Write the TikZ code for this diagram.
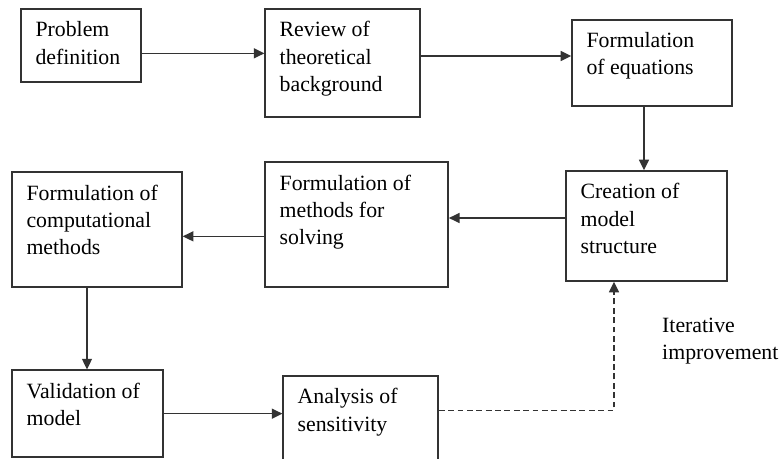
\documentclass[tikz,border=0pt]{standalone}
\usepackage{fontspec}
\setmainfont{Liberation Serif}
\usepackage{tikz}
\usetikzlibrary{calc,positioning,arrows.meta}

\begin{document}
\begin{tikzpicture}[
    stage/.style={draw=black!80, line width=1.2pt, fill=white, inner sep=0pt},
    stagetext/.style={anchor=north west, xshift=0.45cm, yshift=-0.39cm, inner sep=0pt,
        align=left, font=\fontsize{18.6}{23.3}\selectfont},
    flow/.style={-{Triangle[length=0.32cm,width=0.3cm]}, line width=1.2pt, draw=black!80},
    loopback/.style={flow, dashed, dash pattern=on 5pt off 3pt}
]
    \useasboundingbox (0,0) rectangle (23.43,-13.77);

    % Top row
    \node[stage, minimum width=3.60cm, minimum height=2.19cm, label={[stagetext]north west:{Problem\\definition}}] (B1) at (2.43,-1.37) {};
    \node[stage, minimum width=4.65cm, minimum height=3.24cm, label={[stagetext]north west:{Review of\\theoretical\\background}}] (B2) at (10.28,-1.89) {};
    \node[stage, minimum width=4.80cm, minimum height=2.58cm, label={[stagetext]north west:{Formulation\\of equations}}] (B3) at (19.56,-1.89) {};

    % Middle row
    \node[stage, minimum width=4.83cm, minimum height=3.30cm, label={[stagetext]north west:{Creation of\\model\\structure}}] (B4) at (19.40,-6.78) {};
    \node[stage, minimum width=5.49cm, minimum height=3.75cm, label={[stagetext]north west:{Formulation of\\methods for\\solving}}] (B5) at (10.70,-6.74) {};
    \node[stage, minimum width=5.10cm, minimum height=3.45cm, label={[stagetext]north west:{Formulation of\\computational\\methods}}] (B6) at (2.91,-6.89) {};

    % Bottom row
    \node[stage, minimum width=4.53cm, minimum height=2.61cm, label={[stagetext]north west:{Validation of\\model}}] (B7) at (2.63,-12.41) {};
    \node[stage, minimum width=4.65cm, minimum height=2.58cm, label={[stagetext]north west:{Analysis of\\sensitivity}}] (B8) at (10.82,-12.57) {};

    % Feedback label
    \node[anchor=north west, inner sep=0pt, align=left, font=\fontsize{18.6}{23.3}\selectfont] (iter) at (19.86,-9.54) {Iterative\\improvement};

    % Main flow
    \draw[flow] ([yshift=-0.23cm]B1.east) -- ([yshift=-0.23cm]B1.east -| B2.west);
    \draw[flow] ([yshift=0.21cm]B2.east) -- ([yshift=0.21cm]B2.east -| B3.west);
    \draw[flow] ([xshift=-0.24cm]B3.south) -- ([xshift=-0.24cm]B3.south |- B4.north);
    \draw[flow] ([yshift=0.24cm]B4.west) -- ([yshift=0.24cm]B4.west -| B5.east);
    \draw[flow] ([yshift=-0.35cm]B5.west) -- ([yshift=-0.35cm]B5.west -| B6.east);
    \draw[flow] ([xshift=-0.30cm]B6.south) -- ([xshift=-0.30cm]B6.south |- B7.north);
    \draw[flow] (B7.east) -- (B7.east -| B8.west);

    % Iterative loop back to the model structure
    \draw[loopback] ([yshift=0.26cm]B8.east) -| ([xshift=-0.98cm]B4.south);
\end{tikzpicture}
\end{document}
